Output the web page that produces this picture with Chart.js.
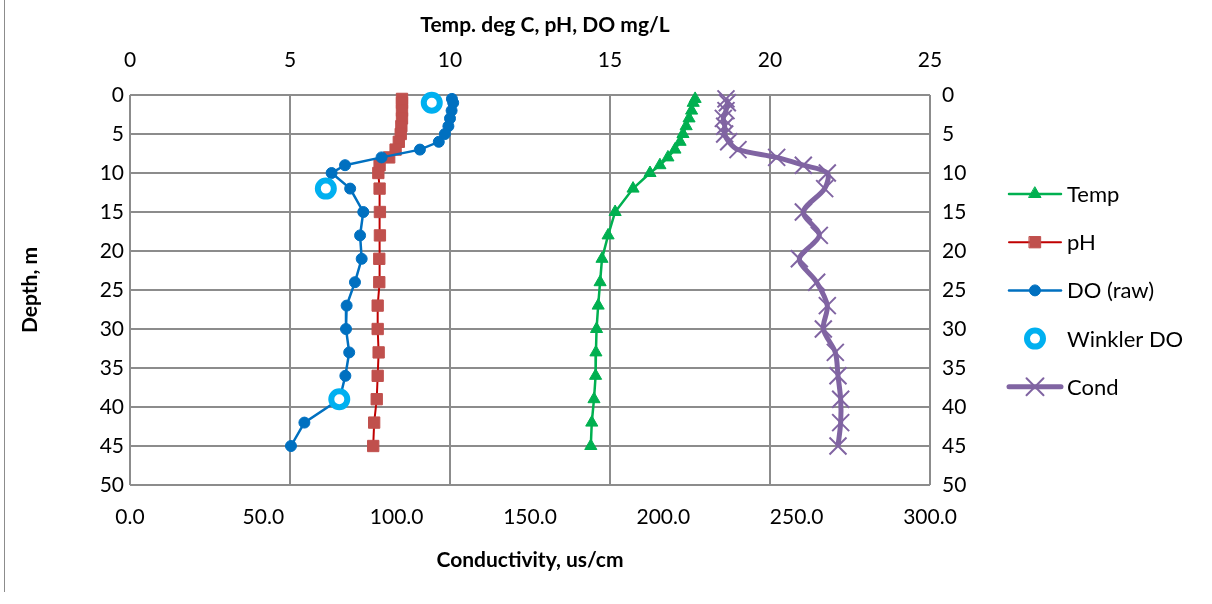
<!DOCTYPE html>
<html>
<head>
<meta charset="utf-8">
<script src="https://cdn.jsdelivr.net/npm/chart.js@4.4.1/dist/chart.umd.min.js"></script>
<style>
  html, body { margin: 0; padding: 0; background: #fff; }
  #wrap { width: 1212px; height: 604px; position: relative; }
</style>
</head>
<body>
<div id="wrap"><canvas id="grafico"></canvas></div>
<script>
// profundidades (m) comuns a todas as séries
const depths  = [0.5, 1, 2, 3, 4, 5, 6, 7, 8, 9, 10, 12, 15, 18, 21, 24, 27, 30, 33, 36, 39, 42, 45];
const temp    = [17.66, 17.6, 17.55, 17.47, 17.38, 17.28, 17.19, 17.03, 16.81, 16.56, 16.25, 15.72, 15.16, 14.94, 14.75, 14.69, 14.63, 14.58, 14.56, 14.55, 14.5, 14.43, 14.4];
const ph      = [8.5, 8.5, 8.5, 8.5, 8.48, 8.46, 8.4, 8.3, 8.1, 7.8, 7.76, 7.8, 7.81, 7.81, 7.79, 7.79, 7.74, 7.74, 7.77, 7.74, 7.71, 7.63, 7.6];
const doRaw   = [10.06, 10.1, 10.05, 10.0, 9.95, 9.84, 9.65, 9.06, 7.86, 6.72, 6.3, 6.88, 7.29, 7.19, 7.24, 7.03, 6.77, 6.75, 6.85, 6.73, 6.55, 5.45, 5.03];
const cond    = [223.5, 224, 223.5, 222.5, 223, 223, 224.5, 228, 242.5, 252.5, 261.5, 260.5, 252.5, 258.5, 251, 257.5, 261.5, 260, 264.5, 265.5, 266.5, 266.5, 265.5];
const winklerDepths = [1, 12, 39];
const winklerDO     = [9.43, 6.12, 6.54];

const topTicks = [0, 5, 10, 15, 20, 25];
const bottomTicks = [0, 50, 100, 150, 200, 250, 300];
const depthTicks = [0, 5, 10, 15, 20, 25, 30, 35, 40, 45, 50];

const topTitle = 'Temp. deg C, pH, DO mg/L';

const FONT = "Lato, 'Open Sans', sans-serif";
const GRID = '#8c8c8c';

function pts(xs, ys) { return xs.map((v, i) => ({ x: v, y: ys[i] })); }

// ordem da legenda (índices dos datasets)
const legendOrder = [0, 1, 2, 3, 4];

const sideLegend = {
  id: 'sideLegend',
  afterDraw(chart) {
    const ctx = chart.ctx;
    const x0 = 1009, x1 = 1061, tx = 1067;
    legendOrder.forEach((idx, i) => {
      const ds = chart.data.datasets[idx];
      const y = 194 + i * 48.2;
      ctx.save();
      if (ds.showLine) {
        ctx.strokeStyle = ds.borderColor;
        ctx.lineWidth = ds.borderWidth;
        ctx.lineCap = 'round';
        ctx.beginPath();
        ctx.moveTo(x0, y);
        ctx.lineTo(x1, y);
        ctx.stroke();
      }
      ctx.fillStyle = ds.pointBackgroundColor;
      ctx.strokeStyle = ds.pointBorderColor;
      ctx.lineWidth = ds.pointBorderWidth;
      Chart.helpers.drawPoint(ctx, {
        pointStyle: ds.pointStyle,
        radius: ds.pointRadius,
        rotation: 0,
        borderWidth: ds.pointBorderWidth
      }, (x0 + x1) / 2, y);
      ctx.fillStyle = '#000';
      ctx.font = "22px " + FONT;
      ctx.textBaseline = 'middle';
      ctx.textAlign = 'left';
      ctx.fillText(ds.label, tx, y + 1);
      ctx.restore();
    });

    // título do eixo superior (um pouco à direita do centro, como no original)
    ctx.save();
    ctx.fillStyle = '#000';
    ctx.font = "bold 21px " + FONT;
    ctx.textAlign = 'center';
    ctx.textBaseline = 'middle';
    ctx.fillText(topTitle, 545, 25);
    ctx.restore();

    // borda esquerda do gráfico
    ctx.save();
    ctx.strokeStyle = '#8c8c8c';
    ctx.lineWidth = 1;
    ctx.beginPath();
    ctx.moveTo(4.5, 0);
    ctx.lineTo(4.5, 592);
    ctx.stroke();
    ctx.restore();
  }
};

const ctx = document.getElementById('grafico').getContext('2d');

const tickFont = { family: FONT, size: 21 };
const titleFont = { family: FONT, size: 21, weight: 'bold' };

new Chart(ctx, {
  type: 'scatter',
  data: {
    datasets: [
      {
        label: 'Temp',
        data: pts(temp, depths),
        xAxisID: 'xTop', yAxisID: 'y',
        showLine: true,
        borderColor: '#00B050', borderWidth: 2.5,
        pointStyle: 'triangle', pointRadius: 7,
        pointBackgroundColor: '#00B050', pointBorderColor: '#00B050', pointBorderWidth: 1,
        order: 3, clip: false
      },
      {
        label: 'pH',
        data: pts(ph, depths),
        xAxisID: 'xTop', yAxisID: 'y',
        showLine: true,
        borderColor: '#C00000', borderWidth: 2,
        pointStyle: 'rect', pointRadius: 8,
        pointBackgroundColor: '#C0504D', pointBorderColor: '#C0504D', pointBorderWidth: 1,
        order: 2, clip: false
      },
      {
        label: 'DO (raw)',
        data: pts(doRaw, depths),
        xAxisID: 'xTop', yAxisID: 'y',
        showLine: true,
        borderColor: '#0070C0', borderWidth: 2.5,
        pointStyle: 'circle', pointRadius: 5.5,
        pointBackgroundColor: '#0070C0', pointBorderColor: '#0070C0', pointBorderWidth: 1,
        order: 1, clip: false
      },
      {
        label: 'Winkler DO',
        data: pts(winklerDO, winklerDepths),
        xAxisID: 'xTop', yAxisID: 'y',
        showLine: false,
        pointStyle: 'circle', pointRadius: 8,
        pointBackgroundColor: '#ffffff', pointBorderColor: '#00B0F0', pointBorderWidth: 6,
        order: 0, clip: false
      },
      {
        label: 'Cond',
        data: pts(cond, depths),
        xAxisID: 'xBot', yAxisID: 'y',
        showLine: true,
        borderColor: '#8064A2', borderWidth: 5, tension: 0.3,
        pointStyle: 'crossRot', pointRadius: 12,
        pointBackgroundColor: '#8064A2', pointBorderColor: '#8064A2', pointBorderWidth: 2,
        order: 4, clip: false
      }
    ]
  },
  options: {
    responsive: true,
    maintainAspectRatio: false,
    animation: false,
    events: [],
    layout: { padding: 0 },
    plugins: {
      legend: { display: false },
      tooltip: { enabled: false }
    },
    scales: {
      xTop: {
        type: 'linear', position: 'top',
        min: 0, max: 25,
        afterBuildTicks: s => { s.ticks = topTicks.map(v => ({ value: v })); },
        afterFit: s => { s.height = 95; },
        grid: { color: GRID, lineWidth: 2, drawTicks: false },
        border: { display: false },
        ticks: { color: '#000', font: tickFont, padding: 22, maxRotation: 0 },
        title: { display: false }
      },
      xBot: {
        type: 'linear', position: 'bottom',
        min: 0, max: 300,
        afterBuildTicks: s => { s.ticks = bottomTicks.map(v => ({ value: v })); },
        afterFit: s => { s.height = 119; },
        grid: { display: false, drawTicks: false },
        border: { display: false },
        ticks: { color: '#000', font: tickFont, padding: 20, maxRotation: 0,
                 callback: v => Number(v).toFixed(1) },
        title: { display: true, text: 'Conductivity, us/cm', color: '#000',
                 font: titleFont, padding: { top: 0, bottom: 31 } }
      },
      y: {
        type: 'linear', position: 'left', reverse: true,
        min: 0, max: 50,
        afterBuildTicks: s => { s.ticks = depthTicks.map(v => ({ value: v })); },
        afterFit: s => { s.width = 130; },
        grid: { color: GRID, lineWidth: 2, drawTicks: false },
        border: { display: false },
        ticks: { color: '#000', font: tickFont, padding: 6 },
        title: { display: true, text: 'Depth, m', color: '#000',
                 font: titleFont, padding: { top: 18, bottom: 0 } }
      },
      y2: {
        type: 'linear', position: 'right', reverse: true,
        min: 0, max: 50,
        afterBuildTicks: s => { s.ticks = depthTicks.map(v => ({ value: v })); },
        afterFit: s => { s.width = 282; },
        grid: { display: false, drawTicks: false },
        border: { display: false },
        ticks: { color: '#000', font: tickFont, padding: 12 }
      }
    }
  },
  plugins: [sideLegend]
});
</script>
</body>
</html>
